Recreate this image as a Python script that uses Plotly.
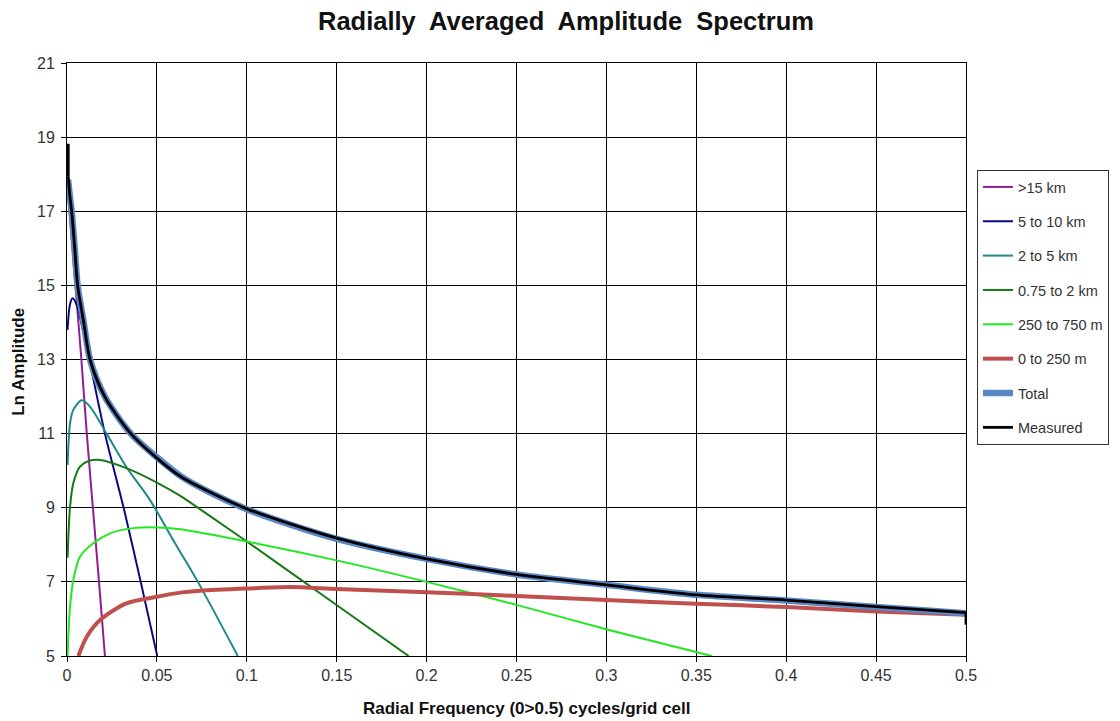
import plotly.graph_objects as go

# ---- data ----
purple_x = [0.0005, 0.002, 0.0045, 0.008, 0.011, 0.0144, 0.0178, 0.0211]
purple_y = [17.6, 16.6, 15.1, 13.0, 11.0, 9.0, 7.0, 5.0]

navy_x = [0.0003, 0.0017, 0.0032, 0.0054, 0.0075, 0.0124, 0.0211, 0.0315, 0.041, 0.0502]
navy_y = [13.8, 14.5, 14.65, 14.47, 14.08, 13.0, 11.0, 9.0, 7.0, 5.0]

teal_x = [0.0003, 0.0017, 0.0035, 0.0081, 0.0128, 0.022, 0.033, 0.046, 0.06, 0.0728, 0.095]
teal_y = [10.15, 11.28, 11.64, 11.9, 11.73, 11.0, 10.1, 9.22, 8.05, 7.0, 5.0]

green_x = [0.0003, 0.0017, 0.0035, 0.0072, 0.012, 0.0184, 0.033, 0.05, 0.063, 0.08, 0.1, 0.146, 0.19]
green_y = [7.65, 9.03, 9.66, 10.11, 10.26, 10.29, 10.07, 9.68, 9.32, 8.76, 8.09, 6.51, 5.0]

lime_x = [0.0003, 0.0008, 0.0017, 0.0035, 0.0072, 0.0146, 0.024, 0.037, 0.05, 0.063, 0.1, 0.15, 0.2, 0.25, 0.3, 0.3586]
lime_y = [5.0, 5.6, 6.33, 7.05, 7.68, 8.04, 8.31, 8.45, 8.47, 8.42, 8.09, 7.58, 7.0, 6.38, 5.72, 5.0]

red_x = [0.0063, 0.011, 0.0184, 0.033, 0.05, 0.063, 0.074, 0.1, 0.124, 0.15, 0.2, 0.25, 0.3, 0.35, 0.4, 0.45, 0.5]
red_y = [5.0, 5.52, 5.97, 6.42, 6.6, 6.71, 6.76, 6.82, 6.86, 6.81, 6.72, 6.62, 6.51, 6.41, 6.32, 6.2, 6.11]

total_x = [0.0006, 0.0015, 0.0026, 0.0043, 0.0059, 0.0093, 0.0128, 0.021, 0.0355, 0.05, 0.063, 0.08,
           0.1, 0.125, 0.15, 0.2, 0.25, 0.3, 0.35, 0.4, 0.45, 0.5]
total_y = [17.85, 17.45, 17.0, 16.0, 15.0, 14.0, 13.0, 12.0, 11.0, 10.36, 9.86, 9.4,
           8.96, 8.53, 8.16, 7.62, 7.2, 6.92, 6.65, 6.5, 6.32, 6.15]

# measured: start spike, main curve, end drop (None separates the pieces)
meas_x = [0.0007, 0.0007, None,
          0.0007, 0.0015, 0.0026, 0.0043, 0.0059, 0.0093, 0.0128, 0.021, 0.0355, 0.05, 0.063,
          0.08, 0.1, 0.125, 0.15, 0.2, 0.25, 0.3, 0.35, 0.4, 0.45, 0.5, None,
          0.5, 0.5]
meas_y = [18.82, 17.95, None,
          17.95, 17.45, 17.0, 16.0, 15.0, 14.0, 13.0, 12.0, 11.0, 10.34, 9.85,
          9.41, 8.97, 8.55, 8.18, 7.62, 7.2, 6.92, 6.65, 6.51, 6.33, 6.17, None,
          6.17, 5.84]

x_ticks = [0, 0.05, 0.1, 0.15, 0.2, 0.25, 0.3, 0.35, 0.4, 0.45, 0.5]
x_labels = ["0", "0.05", "0.1", "0.15", "0.2", "0.25", "0.3", "0.35", "0.4", "0.45", "0.5"]
y_ticks = [5, 7, 9, 11, 13, 15, 17, 19, 21]
y_labels = ["5", "7", "9", "11", "13", "15", "17", "19", "21"]

series = [
    (">15 km", purple_x, purple_y, "#8e1f8e", 2),
    ("5 to 10 km", navy_x, navy_y, "#0a0a80", 2),
    ("2 to 5 km", teal_x, teal_y, "#208888", 2),
    ("0.75 to 2 km", green_x, green_y, "#157a15", 2),
    ("250 to 750 m", lime_x, lime_y, "#22e822", 2),
    ("0 to 250 m", red_x, red_y, "#c0504d", 4),
    ("Total", total_x, total_y, "#5a87c5", 6.5),
    ("Measured", meas_x, meas_y, "#000000", 2.8),
]

FONT = "Liberation Sans, Arial, sans-serif"

fig = go.Figure()
for i, (name, xs, ys, col, w) in enumerate(series):
    fig.add_trace(go.Scatter(
        x=xs, y=ys, mode="lines", name=name, legendgroup=f"g{i}",
        line=dict(color=col, width=w, shape="spline", smoothing=0.8),
        hoverinfo="skip",
    ))

fig.update_layout(
    width=1120, height=713,
    margin=dict(l=59, r=162, t=55, b=65),
    paper_bgcolor="white", plot_bgcolor="white",
    font=dict(family=FONT, color="#222222"),
    title=dict(text="<b>Radially  Averaged  Amplitude  Spectrum</b>",
               x=0.4982, xanchor="center", y=0.9818, yanchor="middle",
               font=dict(size=25.5, color="#111111", family=FONT)),
    showlegend=True,
    legend=dict(x=1.0122, y=0.8196, xanchor="left", yanchor="top",
                bordercolor="#333333", borderwidth=1, bgcolor="white",
                font=dict(size=14.5, color="#333333", family=FONT),
                tracegroupgap=12.5, itemwidth=30),
    xaxis=dict(range=[0, 0.5], tickvals=x_ticks, ticktext=x_labels,
               showgrid=True, gridcolor="#000000", gridwidth=1,
               showline=True, linecolor="#000000", linewidth=1, mirror=True,
               ticks="outside", ticklen=5, tickcolor="#000000",
               tickfont=dict(size=16, color="#333333"), zeroline=False),
    yaxis=dict(range=[5, 21], tickvals=y_ticks, ticktext=y_labels,
               showgrid=True, gridcolor="#000000", gridwidth=1,
               showline=True, linecolor="#000000", linewidth=1, mirror=True,
               ticks="outside", ticklen=5, tickcolor="#000000", ticklabelstandoff=3,
               tickfont=dict(size=16, color="#333333"), zeroline=False),
    annotations=[
        dict(text="<b>Radial Frequency (0>0.5) cycles/grid cell</b>",
             xref="paper", yref="paper", x=0.5106, y=-0.0877,
             xanchor="center", yanchor="middle", showarrow=False,
             font=dict(size=17, color="#111111", family=FONT)),
        dict(text="<b>Ln Amplitude</b>", textangle=-90,
             xref="paper", yref="paper", x=-0.0534, y=0.496,
             xanchor="center", yanchor="middle", showarrow=False,
             font=dict(size=17, color="#111111", family=FONT)),
    ],
)

fig.write_html("out.html")
